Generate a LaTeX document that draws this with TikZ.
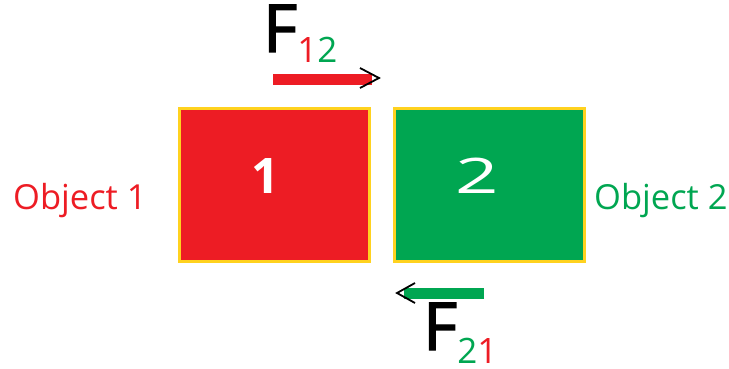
\documentclass[tikz,border=0pt]{standalone}
\usepackage{fontspec}
\setmainfont{Open Sans}
\newfontfamily\heavyF{Open Sans}[FakeBold=2.2]
\usepackage{graphicx}
\definecolor{objred}{HTML}{ED1C24}
\definecolor{objgreen}{HTML}{00A651}
\definecolor{rim}{HTML}{FFD21F}
\begin{document}
\begin{tikzpicture}[x=1pt,y=-1pt,
  block/.style={draw=rim,line width=3pt,minimum width=190pt,minimum height=152pt,inner sep=0pt},
  digit/.style={text=white,font=\fontsize{49}{49}\selectfont\bfseries,inner sep=0pt,anchor=base},
  objlabel/.style={font=\fontsize{34.5}{34.5}\selectfont,inner sep=0pt,anchor=base west},
  forcelabel/.style={font=\fontsize{66}{66}\selectfont,inner sep=0pt,anchor=base west},
  bar/.style={line width=11pt},
  chevron/.style={draw=black,line width=1.8pt,line join=miter}]
\useasboundingbox (0,0) rectangle (729,369);
% the two blocks
\node[block,fill=objred]   (b1) at (274.5,185) {};
\node[block,fill=objgreen] (b2) at (489,185) {};
\node[digit] (n1) at (265,193) {1};
\node[digit] (n2) at (477,193) {\scalebox{1.55}[1]{\mdseries 2}};
% object names
\node[objlabel,text=objred]   (o1) at (13,209) {Object 1};
\node[objlabel,text=objgreen] (o2) at (594,209) {Object 2};
% force F12 on top
\node[forcelabel] (f12) at (263,52) {{\heavyF F}\raisebox{-11pt}{\fontsize{35}{35}\selectfont\textcolor{objred}{1}\textcolor{objgreen}{2}}};
\coordinate (a1s) at (273,80);
\coordinate (a1e) at (372,80);
\coordinate (a1t) at (379,78);
\draw[bar,objred] (a1s) -- (a1e);
\draw[chevron] (360,68) -- (a1t) -- (360,88);
% force F21 below
\node[forcelabel] (f21) at (423,350) {{\heavyF F}\raisebox{-13pt}{\fontsize{35}{35}\selectfont\textcolor{objgreen}{2}\textcolor{objred}{1}}};
\coordinate (a2s) at (484,293);
\coordinate (a2e) at (404,293);
\coordinate (a2t) at (397,293);
\draw[bar,objgreen] (a2s) -- (a2e);
\draw[chevron] (415,283) -- (a2t) -- (415,303);
\end{tikzpicture}
\end{document}
